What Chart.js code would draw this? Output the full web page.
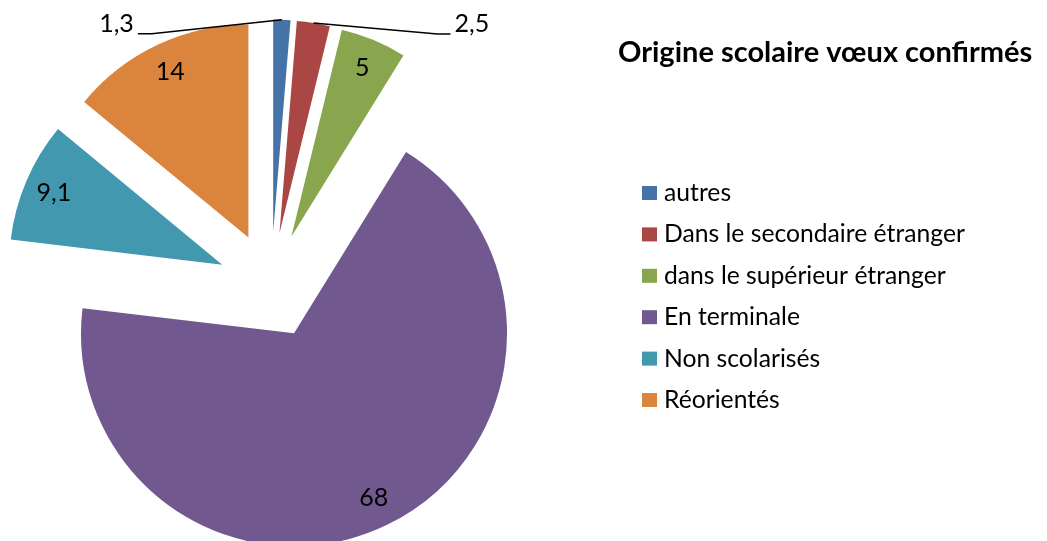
<!DOCTYPE html>
<html>
<head>
<meta charset="utf-8">
<script src="https://cdn.jsdelivr.net/npm/chart.js@4"></script>
<style>
  body { margin: 0; background: #fff; }
  #wrap { width: 1047px; height: 541px; position: relative; }
</style>
</head>
<body>
<div id="wrap"><canvas id="chart1"></canvas></div>
<script>
const title = 'Origine scolaire vœux confirmés';
const labels = ['autres', 'Dans le secondaire étranger', 'dans le supérieur étranger', 'En terminale', 'Non scolarisés', 'Réorientés'];
const values = [1.3, 2.5, 5, 68, 9.1, 14];
const colors = ['#4573A7', '#AA4644', '#89A54E', '#71588F', '#4198AF', '#DB843D'];

const FONT = 'Lato, "Noto Sans", sans-serif';
const EXPLODE = 53;

// leader lines for the two small slices (offset of the elbow from the arc, then a short tail)
const leaders = {
  0: { dx: -130, dy: 14, tail: -14 },
  1: { dx: 124, dy: 11, tail: 13 }
};

function midAngle(arc) {
  return (arc.startAngle + arc.endAngle) / 2;
}

// draw each slice pulled out from the centre, like an exploded excel pie
const explodePlugin = {
  id: 'explode',
  beforeDatasetDraw(chart, args) {
    const ctx = chart.ctx;
    args.meta.data.forEach(function(arc) {
      const a = midAngle(arc);
      ctx.save();
      ctx.translate(Math.cos(a) * EXPLODE, Math.sin(a) * EXPLODE);
      arc.draw(ctx);
      ctx.restore();
    });
    return false;
  }
};

const labelPlugin = {
  id: 'valueLabels',
  afterDraw(chart) {
    const ctx = chart.ctx;
    const meta = chart.getDatasetMeta(0);
    const data = chart.data.datasets[0].data;
    ctx.save();
    ctx.font = '25px ' + FONT;
    ctx.fillStyle = '#000';
    meta.data.forEach(function(arc, i) {
      const a = midAngle(arc);
      const cx = arc.x + Math.cos(a) * EXPLODE;
      const cy = arc.y + Math.sin(a) * EXPLODE;
      const r = arc.outerRadius;
      const txt = String(data[i]).replace('.', ',');
      const ld = leaders[i];
      if (ld) {
        const px = cx + Math.cos(a) * r;
        const py = cy + Math.sin(a) * r;
        const ex = px + ld.dx;
        const ey = py + ld.dy;
        ctx.strokeStyle = '#000';
        ctx.lineWidth = 1.5;
        ctx.beginPath();
        ctx.moveTo(px, py);
        ctx.lineTo(ex, ey);
        ctx.lineTo(ex + ld.tail, ey);
        ctx.stroke();
        ctx.textBaseline = 'alphabetic';
        ctx.textAlign = ld.tail < 0 ? 'right' : 'left';
        ctx.fillText(txt, ex + ld.tail + (ld.tail < 0 ? -4 : 4), ey - 2);
      } else {
        ctx.textAlign = 'center';
        ctx.textBaseline = 'middle';
        ctx.fillText(txt, cx + Math.cos(a) * r * 0.86, cy + Math.sin(a) * r * 0.86);
      }
    });
    ctx.restore();
  }
};

const legendPlugin = {
  id: 'sideLegend',
  afterDraw(chart) {
    const ctx = chart.ctx;
    const ds = chart.data.datasets[0];
    ctx.save();
    ctx.fillStyle = '#000';
    ctx.font = 'bold 29px ' + FONT;
    ctx.textAlign = 'left';
    ctx.textBaseline = 'alphabetic';
    ctx.fillText(title, 618, 62);

    ctx.font = '24.7px ' + FONT;
    ctx.textBaseline = 'middle';
    chart.data.labels.forEach(function(lbl, i) {
      const y = 193 + i * 41.4;
      ctx.fillStyle = ds.backgroundColor[i];
      ctx.fillRect(642, y - 7, 15, 14);
      ctx.fillStyle = '#000';
      ctx.fillText(lbl, 664, y);
    });
    ctx.restore();
  }
};

const ctx1 = document.getElementById('chart1');

new Chart(ctx1, {
  type: 'pie',
  data: {
    labels: labels,
    datasets: [{
      data: values,
      backgroundColor: colors,
      borderWidth: 0,
      radius: 213
    }]
  },
  options: {
    responsive: true,
    maintainAspectRatio: false,
    animation: false,
    layout: {
      padding: { top: 30, right: 505, bottom: 0, left: 0 }
    },
    plugins: {
      legend: { display: false },
      title: { display: false },
      tooltip: { enabled: false }
    }
  },
  plugins: [explodePlugin, labelPlugin, legendPlugin]
});
</script>
</body>
</html>
